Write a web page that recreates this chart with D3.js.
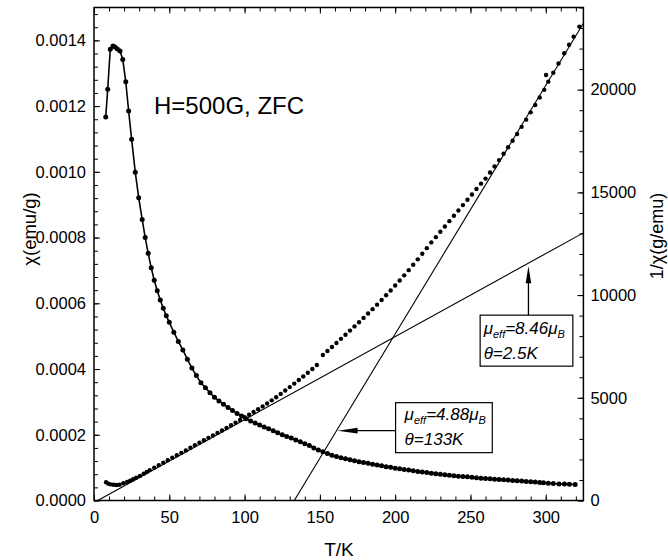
<!DOCTYPE html>
<html>
<head>
<meta charset="utf-8">
<script src="https://cdn.jsdelivr.net/npm/d3@7"></script>
<style>
  body { margin: 0; background: #fff; }
  text { font-family: "Liberation Sans", Arial, sans-serif; fill: #000; }
</style>
</head>
<body>
<script>
// chi (in 1e-6 emu/g) against T (K)
const chiData = [
  [7.8,1167],[9.1,1251],[10.8,1373],[12.6,1383],[13.9,1380],[15.5,1374],[17.3,1368],[19.1,1342],
  [21.1,1274],[23.0,1185],[25.0,1099],[27.4,999],[29.7,921],[32,855],[34,800],[36,752],[38,708],
  [40,670],[42,638],[44,610],[46,585],[48,562],[50,542],[53,512],[56,484],[59,458],[62,430],
  [65,403],[68,380],[71,358],[74,343],[77,328],[80,314],[83,303],[86,293],[89,283],[92,274],
  [95,265],[98,257],[101,249],[104,242],[107,236],[110,230],[113,224],[116,218],[119,212],
  [122,206],[125,200],[128,195],[131,190],[134,184],[137,179],[140,173],[143,167],[146,160],
  [149,154],[152,148],[155,143],[158,138],[161,134],[164,130],[167,127],[170,124],[173,121],
  [176,118],[179,115.5],[182,113],[185,110.5],[188,108],[191,105.5],[194,103],[197,101],
  [200,98.5],[203,96.5],[206,94.5],[209,92.5],[212,90.5],[215,88.5],[218,86.5],[221,85],
  [224,83],[227,81.5],[230,80],[233,78.5],[236,77],[239,75.5],[242,74],[245,73],[248,72],
  [251,70.5],[254,69.5],[257,68],[260,67],[263,66],[266,65],[269,64],[272,63],[275,62],
  [278,61],[281,60],[284,59],[287,58],[290,57],[293,56],[296,55],[298.5,54],[301.7,52.5],
  [305,51.5],[308.8,50.5],[312.4,50],[315.7,49.5],[319.5,48.5]
];

// 1/chi (g/emu) against T (K)
const invData = [
  [8.0,886],[9.5,820],[11,785],[13,765],[15,755],[17,770],[19.5,837],[22,900],[24,960],
  [26,1032],[28,1110],[30.5,1193],[33,1300],[35,1390],[37,1480],[40,1600],[43,1720],[46,1840],
  [49,1960],[52,2080],[55,2200],[58,2320],[61,2440],[64,2565],[67,2690],[70,2810],[73,2930],
  [76,3050],[79,3170],[82,3290],[85,3410],[88,3530],[91,3660],[94,3790],[97,3920],[100,4050],
  [103,4175],[106,4305],[109,4440],[112,4580],[115,4725],[118,4875],[121,5030],[124,5190],
  [127,5355],[130,5520],[133,5690],[136,5865],[139,6040],[142,6220],[145,6405],[148,6597],
  [152,7084],[155,7280],[158,7475],[161,7670],[164,7870],[167,8070],[170,8270],[173,8475],
  [176,8680],[179,8890],[182,9100],[185,9315],[188,9535],[191,9760],[194,9990],[197,10225],
  [200,10465],[203,10710],[206,10960],[209,11215],[212,11475],[215,11740],[218,12010],
  [221,12285],[224,12565],[227,12820],[230,13080],[233,13340],[236,13600],[239,13860],
  [242,14120],[245,14380],[248,14640],[251,14900],[254,15165],[257,15425],[260,15670],
  [263,15965],[266,16265],[269,16570],[272,16880],[275,17195],[278,17515],[281,17840],
  [284,18190],[287,18540],[290,18895],[293,19255],[296,19620],[299,19990],[300.2,20717],
  [301.7,20391],[305,20820],[308.5,21275],[312.3,21770],[315.5,22190],[318.5,22580],[322.3,23069]
];

// Curie-Weiss fits: 1/chi = slope*(T - theta)
const fitTheta = [2.5, 133];
const fitSlope = [40.4, 121];
const fitMu = ["8.46", "4.88"];
const fitArrowT = [288.5, 161];

const xTicks = [0, 50, 100, 150, 200, 250, 300];
const chiTicks = [0, 200, 400, 600, 800, 1000, 1200, 1400];
const invTicks = [0, 5000, 10000, 15000, 20000];

const W = 668, H = 560;
const L = 94, R = 583.4, T = 7.5, B = 500.5;

const svg = d3.select("body").append("svg")
    .attr("width", W)
    .attr("height", H)
    .style("background", "#fff");

const x = d3.scaleLinear().domain([0, 325]).range([L, R]);
const yL = d3.scaleLinear().domain([0, 1500]).range([B, T]);
const yR = d3.scaleLinear().domain([0, 24000]).range([B, T]);

svg.append("clipPath").attr("id", "plot")
  .append("rect").attr("x", L).attr("y", T).attr("width", R - L).attr("height", B - T);

// axes (ticks inward)
function ax(axis, tx, ty, ticks, size, fmt, pad) {
  const g = svg.append("g").attr("transform", `translate(${tx},${ty})`)
    .call(axis.tickValues(ticks).tickSize(-size).tickPadding(pad).tickFormat(fmt));
  g.select(".domain").remove();
  g.selectAll("line").attr("stroke", "#000").attr("stroke-width", 1);
  g.selectAll("text").attr("font-size", 16.5).attr("font-family", "Liberation Sans, Arial, sans-serif");
  return g;
}
const none = () => "";
ax(d3.axisBottom(x), 0, B, d3.range(0, 326, 10), 4, none, 0);
ax(d3.axisBottom(x), 0, B, xTicks, 6, d => d, 11);
ax(d3.axisTop(x), 0, T, d3.range(0, 326, 10), 4, none, 0);
ax(d3.axisTop(x), 0, T, xTicks, 6, none, 0);
ax(d3.axisLeft(yL), L, 0, d3.range(0, 1501, 40), 4, none, 0);
ax(d3.axisLeft(yL), L, 0, chiTicks, 6, d => (d / 1e6).toFixed(4), 8);
ax(d3.axisRight(yR), R, 0, d3.range(0, 24001, 1000), 4, none, 0);
ax(d3.axisRight(yR), R, 0, invTicks, 6, d => d, 7);

svg.append("rect")
  .attr("x", L).attr("y", T).attr("width", R - L).attr("height", B - T)
  .attr("fill", "none").attr("stroke", "#000").attr("stroke-width", 1.5);

const plot = svg.append("g").attr("clip-path", "url(#plot)");

// fit lines
fitTheta.forEach((th, i) => {
  plot.append("path")
    .datum([[th, 0], [325, fitSlope[i] * (325 - th)]])
    .attr("d", d3.line().x(d => x(d[0])).y(d => yR(d[1])))
    .attr("stroke", "#000").attr("stroke-width", 1.1).attr("fill", "none");
});

// chi curve
plot.append("path").datum(chiData)
  .attr("d", d3.line().x(d => x(d[0])).y(d => yL(d[1])))
  .attr("fill", "none").attr("stroke", "#000").attr("stroke-width", 1.6);
plot.selectAll("circle.chi").data(chiData).enter().append("circle")
  .attr("class", "chi")
  .attr("cx", d => x(d[0])).attr("cy", d => yL(d[1])).attr("r", 2.5).attr("fill", "#000");

// 1/chi points
plot.selectAll("circle.inv").data(invData).enter().append("circle")
  .attr("class", "inv")
  .attr("cx", d => x(d[0])).attr("cy", d => yR(d[1])).attr("r", 2.2).attr("fill", "#000");

// annotations
function label(g, lx, ly, mu, theta) {
  const t1 = g.append("text").attr("x", lx).attr("y", ly)
    .attr("font-size", 17).attr("font-style", "italic");
  t1.append("tspan").text("μ");
  t1.append("tspan").text("eff").attr("font-size", 11).attr("dy", 4);
  t1.append("tspan").text("=" + mu).attr("dy", -4);
  t1.append("tspan").text("μ");
  t1.append("tspan").text("B").attr("font-size", 11).attr("dy", 4);
  g.append("text").attr("x", lx).attr("y", ly + 25)
    .attr("font-size", 17).attr("font-style", "italic")
    .text("θ=" + theta + "K");
}

const ann = svg.append("g");
// upper annotation: arrow up to fit 1
{
  const tx = x(fitArrowT[0]);
  const ty = yR(fitSlope[0] * (fitArrowT[0] - fitTheta[0])) + 3;
  const bx = tx - 48.3, by = ty + 49;
  ann.append("line").attr("x1", tx).attr("y1", ty + 10).attr("x2", tx).attr("y2", by)
    .attr("stroke", "#000").attr("stroke-width", 1.3);
  ann.append("path").attr("d", `M${tx},${ty} L${tx - 2.8},${ty + 17} L${tx + 2.8},${ty + 17} Z`).attr("fill", "#000");
  ann.append("rect").attr("x", bx).attr("y", by).attr("width", 92.7).attr("height", 51)
    .attr("fill", "#fff").attr("stroke", "#000").attr("stroke-width", 1.2);
  label(ann, bx + 3.5, by + 18.5, fitMu[0], fitTheta[0]);
}
// lower annotation: arrow left to fit 2
{
  const ty = yR(3400);
  const tx = x(fitTheta[1] + 3400 / fitSlope[1]) + 1;
  const bx = tx + 58, by = ty - 28;
  ann.append("line").attr("x1", tx + 10).attr("y1", ty).attr("x2", bx).attr("y2", ty)
    .attr("stroke", "#000").attr("stroke-width", 1.3);
  ann.append("path").attr("d", `M${tx},${ty} L${tx + 20},${ty - 2.8} L${tx + 20},${ty + 2.8} Z`).attr("fill", "#000");
  ann.append("rect").attr("x", bx).attr("y", by).attr("width", 96.7).attr("height", 50)
    .attr("fill", "#fff").attr("stroke", "#000").attr("stroke-width", 1.2);
  label(ann, bx + 9, by + 17.5, fitMu[1], fitTheta[1]);
}

// texts
svg.append("text").attr("x", 154).attr("y", 113.5)
  .attr("font-size", 24).text("H=500G, ZFC");

svg.append("text").attr("x", 339).attr("y", 556)
  .attr("text-anchor", "middle").attr("font-size", 19).text("T/K");

svg.append("text")
  .attr("transform", "translate(36,229) rotate(-90)")
  .attr("text-anchor", "middle").attr("font-size", 18.5).text("χ(emu/g)");

svg.append("text")
  .attr("transform", "translate(663,236) rotate(-90)")
  .attr("text-anchor", "middle").attr("font-size", 18).text("1/χ(g/emu)");
</script>
</body>
</html>
